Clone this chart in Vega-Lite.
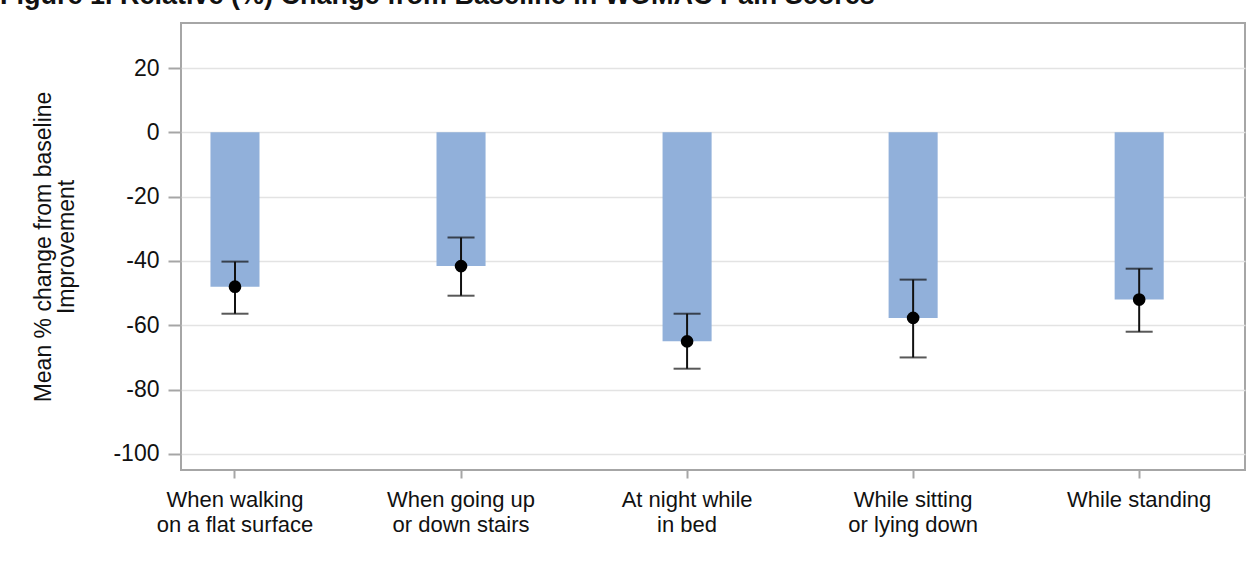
{
  "$schema": "https://vega.github.io/schema/vega-lite/v6.json",
  "autosize": "none",
  "width": 1064,
  "height": 447,
  "padding": {"left": 181, "top": 23, "right": 2, "bottom": 93},
  "background": "white",
  "title": {
    "text": "Figure 1. Relative (%) Change from Baseline in WOMAC Pain Scores",
    "anchor": "start",
    "frame": "group",
    "dx": -181,
    "dy": 20,
    "offset": 6,
    "baseline": "bottom",
    "font": "Liberation Sans",
    "fontSize": 27,
    "fontWeight": "bold",
    "color": "#111111"
  },
  "config": {
    "font": "Liberation Sans",
    "view": {"stroke": "#a6a6a6", "strokeWidth": 2}
  },
  "data": {
    "values": [
      {"item": "When walking|on a flat surface", "mean": -48, "lower": -56.4, "upper": -40.2},
      {"item": "When going up|or down stairs", "mean": -41.6, "lower": -50.8, "upper": -32.7},
      {"item": "At night while|in bed", "mean": -65, "lower": -73.5, "upper": -56.4},
      {"item": "While sitting|or lying down", "mean": -57.7, "lower": -70, "upper": -45.8},
      {"item": "While standing", "mean": -52, "lower": -62, "upper": -42.4}
    ]
  },
  "encoding": {
    "x": {
      "field": "item",
      "type": "nominal",
      "sort": null,
      "scale": {"paddingInner": 0.783, "paddingOuter": 0.245, "align": 0.266},
      "axis": {
        "title": null,
        "labelAngle": 0,
        "labelExpr": "split(datum.label, '|')",
        "labelFontSize": 22,
        "labelLineHeight": 25,
        "labelColor": "#111111",
        "labelPadding": 11,
        "tickColor": "#a6a6a6",
        "tickSize": 8,
        "tickWidth": 2,
        "domain": false,
        "grid": false
      }
    }
  },
  "layer": [
    {
      "mark": {"type": "bar", "color": "#91b0da", "orient": "vertical"},
      "encoding": {
        "y": {
          "field": "mean",
          "type": "quantitative",
          "scale": {"domain": [-105, 34], "nice": false, "zero": false},
          "axis": {
            "values": [-100, -80, -60, -40, -20, 0, 20],
            "labelExpr": "toString(datum.value)",
            "title": ["Mean % change from baseline", "Improvement"],
            "titleFontSize": 23,
            "titleFontWeight": "normal",
            "titleColor": "#111111",
            "titleLineHeight": 23,
            "titlePadding": 34,
            "labelFontSize": 23,
            "labelColor": "#111111",
            "labelPadding": 9,
            "tickColor": "#a6a6a6",
            "tickSize": 13,
            "tickWidth": 2,
            "domain": false,
            "grid": true,
            "gridColor": "#e3e3e3",
            "gridWidth": 1.5
          }
        },
        "y2": {"datum": 0}
      }
    },
    {
      "mark": {"type": "rule", "color": "#3a5db4", "strokeWidth": 2},
      "encoding": {"y": {"datum": 0}}
    },
    {
      "mark": {"type": "rule", "color": "#111111", "strokeWidth": 2},
      "encoding": {
        "y": {"field": "lower", "type": "quantitative"},
        "y2": {"field": "upper"}
      }
    },
    {
      "mark": {"type": "tick", "color": "#111111", "size": 27, "thickness": 2, "orient": "horizontal"},
      "encoding": {"y": {"field": "lower", "type": "quantitative"}}
    },
    {
      "mark": {"type": "tick", "color": "#111111", "size": 27, "thickness": 2, "orient": "horizontal"},
      "encoding": {"y": {"field": "upper", "type": "quantitative"}}
    },
    {
      "mark": {"type": "point", "filled": true, "color": "#000000", "opacity": 1, "size": 160},
      "encoding": {"y": {"field": "mean", "type": "quantitative"}}
    }
  ]
}
